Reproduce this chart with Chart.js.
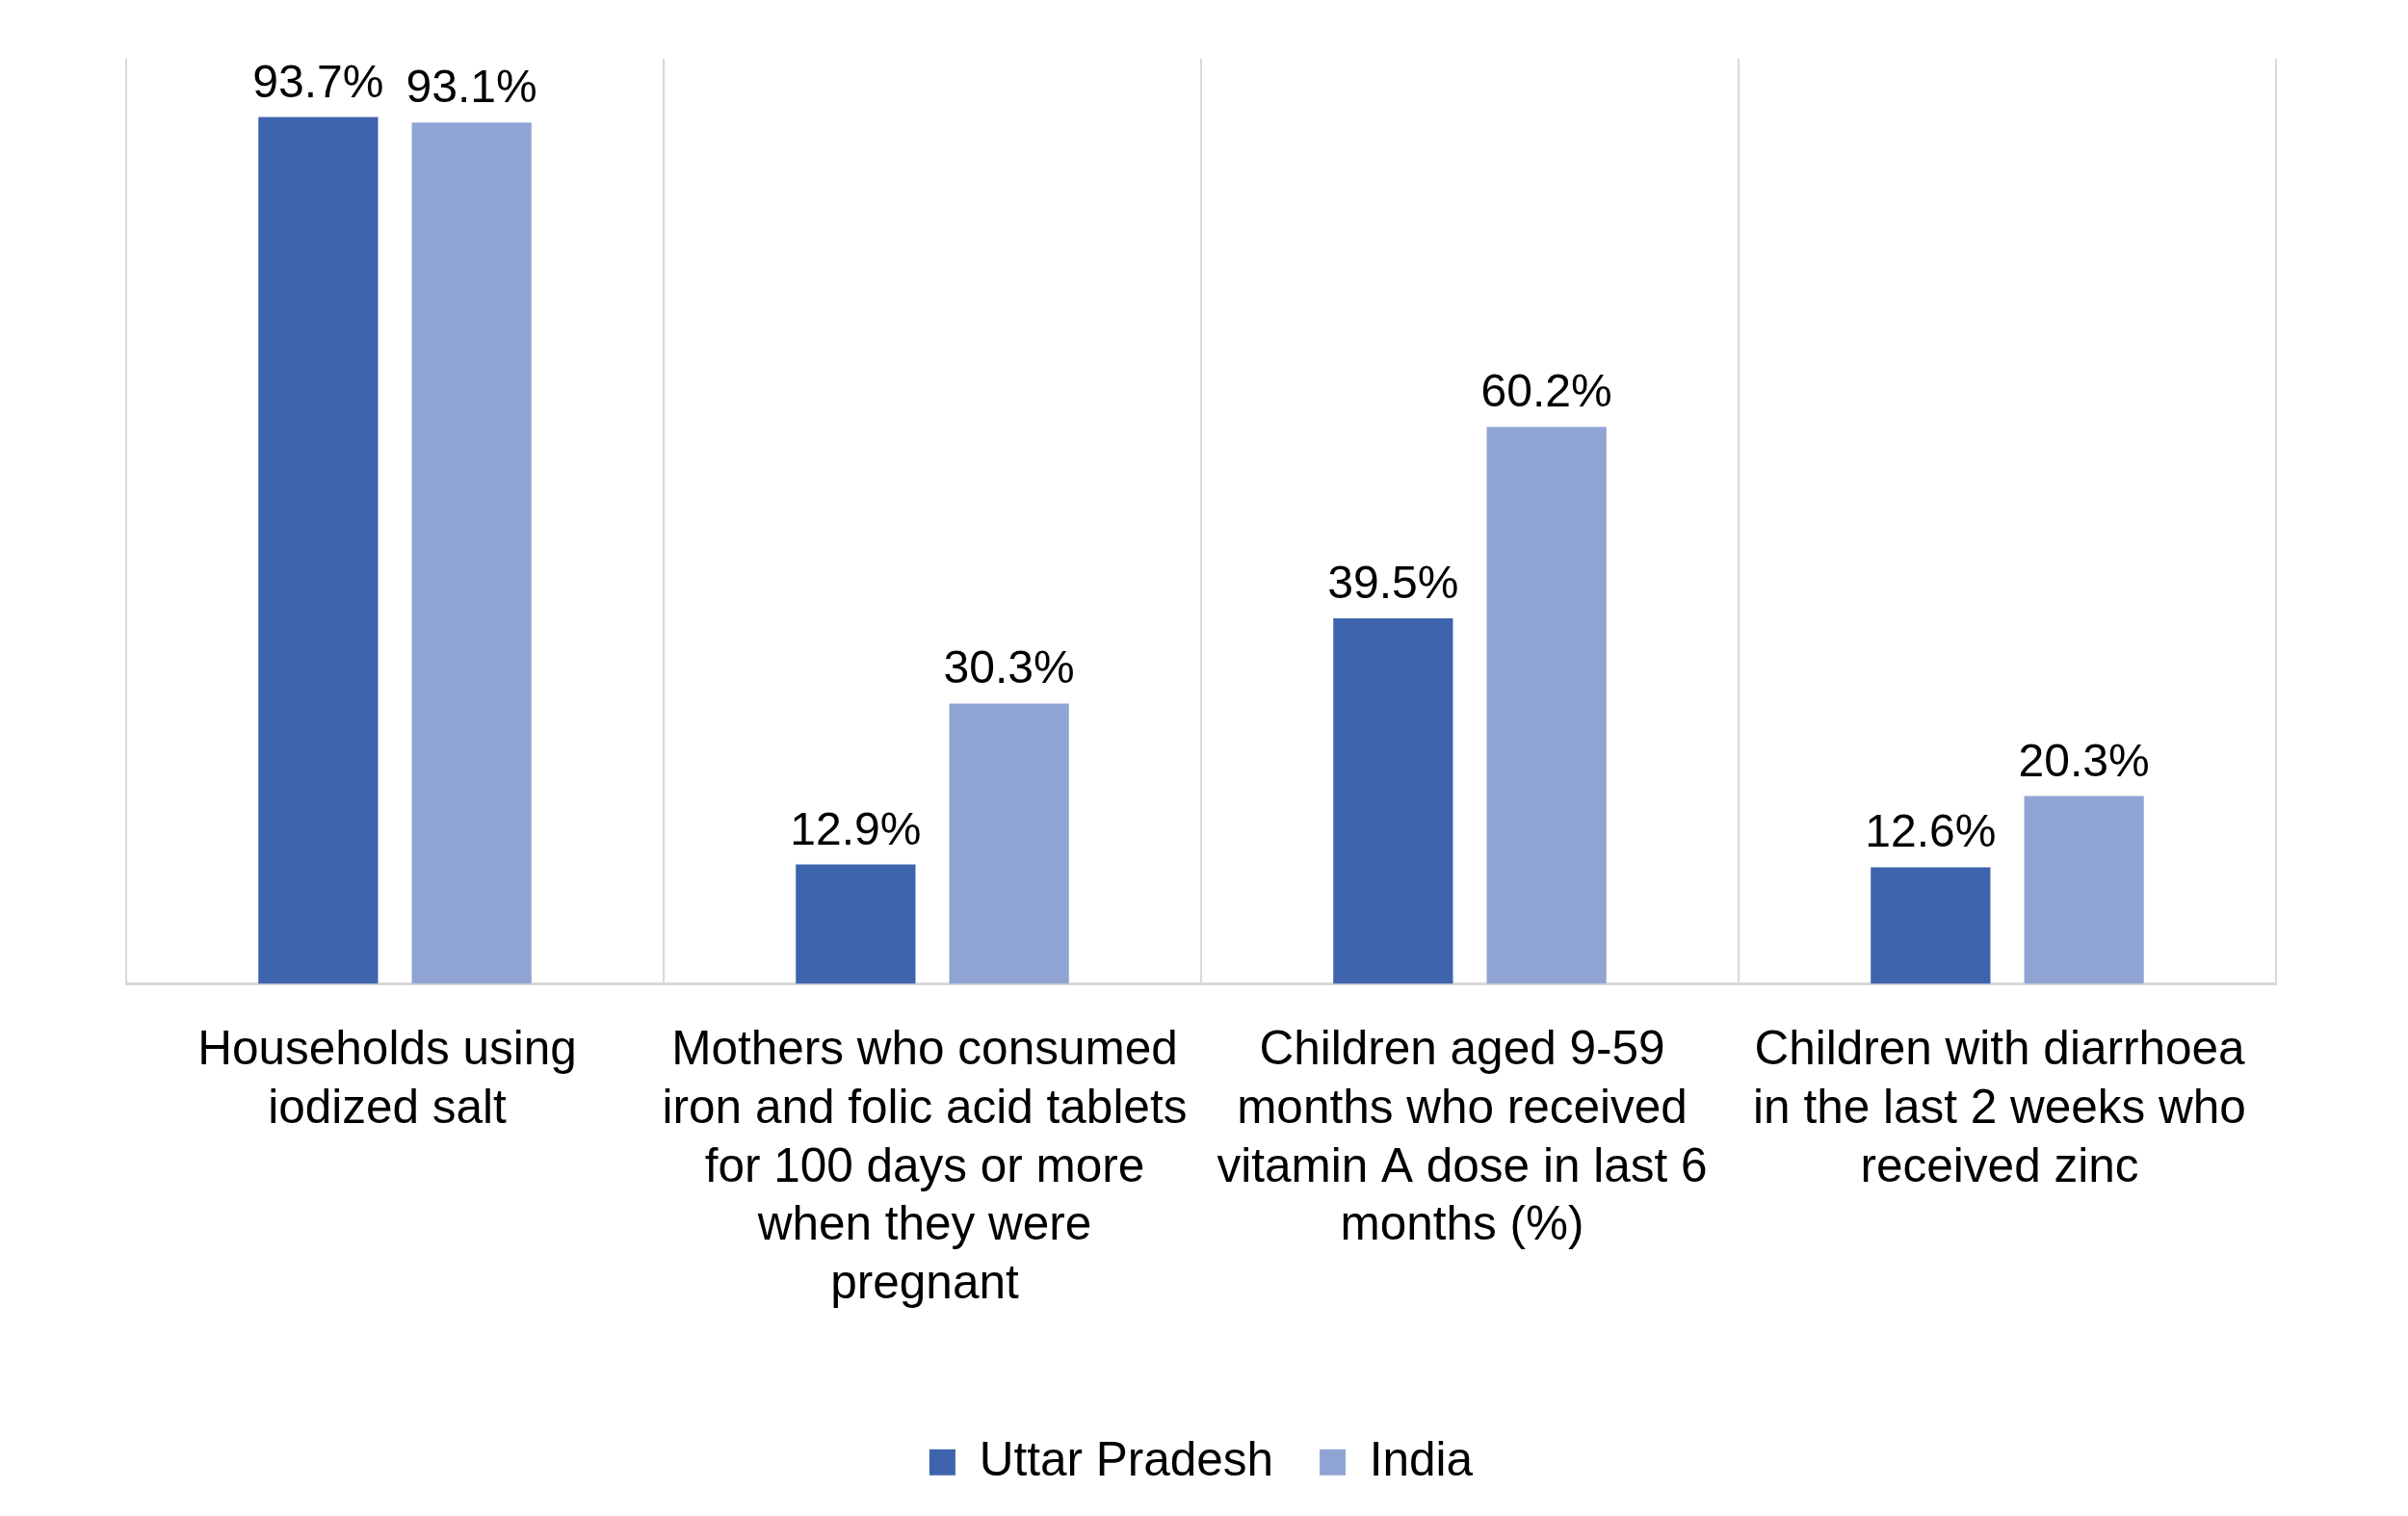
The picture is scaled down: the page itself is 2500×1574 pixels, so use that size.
<!DOCTYPE html>
<html>
<head>
<meta charset="utf-8">
<script src="https://cdn.jsdelivr.net/npm/chart.js@4.4.1/dist/chart.umd.min.js"></script>
<style>
    body { margin: 0; background: #fff; }
    #wrap { width: 2500px; height: 1574px; }
</style>
</head>
<body>
<div id="wrap"><canvas id="chart" width="2500" height="1574"></canvas></div>
<script>
const categories = [
    ["Households using", "iodized salt"],
    ["Mothers who consumed", "iron and folic acid tablets", "for 100 days or more", "when they were", "pregnant"],
    ["Children aged 9-59", "months who received", "vitamin A dose in last 6", "months (%)"],
    ["Children with diarrhoea", "in the last 2 weeks who", "received zinc"],
];
const uttarPradesh = [93.7, 12.9, 39.5, 12.6];
const india = [93.1, 30.3, 60.2, 20.3];

const FONT = "'Liberation Sans', Arial, sans-serif";

// value labels above each bar
const barLabels = {
    id: "barLabels",
    afterDatasetsDraw(chart) {
        const ctx = chart.ctx;
        ctx.save();
        ctx.font = "48px " + FONT;
        ctx.fillStyle = "#000";
        ctx.textAlign = "center";
        ctx.textBaseline = "alphabetic";
        chart.data.datasets.forEach((ds, i) => {
            chart.getDatasetMeta(i).data.forEach((bar, j) => {
                ctx.fillText(ds.data[j].toFixed(1) + "%", bar.x, bar.y - 21);
            });
        });
        ctx.restore();
    },
};

new Chart(document.getElementById("chart"), {
    type: "bar",
    data: {
        labels: categories,
        datasets: [
            {
                label: "Uttar Pradesh",
                data: uttarPradesh,
                backgroundColor: "#3E64AD",
                categoryPercentage: 0.571,
                barPercentage: 0.78,
            },
            {
                label: "India",
                data: india,
                backgroundColor: "#90A4D4",
                categoryPercentage: 0.571,
                barPercentage: 0.78,
            },
        ],
    },
    options: {
        responsive: false,
        devicePixelRatio: 1,
        animation: false,
        layout: { padding: { left: 131, right: 137, top: 61, bottom: 21 } },
        plugins: {
            legend: {
                position: "bottom",
                labels: {
                    boxWidth: 27,
                    boxHeight: 27,
                    padding: 48,
                    color: "#000",
                    font: { family: FONT, size: 49.5 },
                },
            },
            tooltip: { enabled: false },
        },
        scales: {
            x: {
                grid: { color: "#d9d9d9", lineWidth: 2, offset: true, drawTicks: false },
                border: { color: "#d9d9d9", width: 3 },
                ticks: {
                    color: "#000",
                    padding: 40,
                    labelOffset: -8,
                    maxRotation: 0,
                    autoSkip: false,
                    font: { family: FONT, size: 49.5, lineHeight: 1.224 },
                },
                afterFit(scale) {
                    scale.height = 424;
                },
            },
            y: {
                display: false,
                min: 0,
                max: 100,
            },
        },
    },
    plugins: [barLabels],
});
</script>
</body>
</html>
